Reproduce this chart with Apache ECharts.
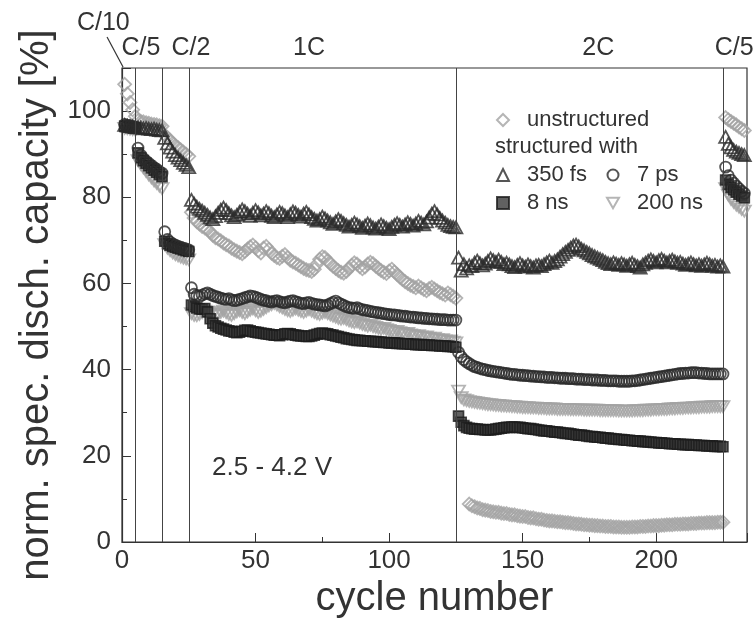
<!DOCTYPE html>
<html>
<head>
<meta charset="utf-8">
<script src="https://cdn.jsdelivr.net/npm/echarts@6/dist/echarts.min.js"></script>
<style>
  html, body { margin: 0; padding: 0; background: #ffffff; }
  #chart { width: 755px; height: 626px; }
</style>
</head>
<body>
<div id="chart"></div>
<script>
// Normalised specific discharge capacity (%) per cycle, cycles 1..233.
// Blocks: C/10 (1-5), C/5 (6-15), C/2 (16-25), 1C (26-125), 2C (126-225), C/5 (226-233).

const unstructured = [
  106.2, 104.0, 102.0, 100.3, 98.8,
  97.8, 97.6, 97.5, 97.3, 97.2, 97.0, 96.9, 96.8, 96.6, 96.5,
  94.5, 93.8, 93.2, 92.6, 92.0, 91.5, 91.0, 90.5, 90.0, 89.5,
  76.5, 75.2, 74.3, 73.8, 73.2, 72.9, 72.5, 72.0, 71.2, 70.6,
  70.3, 69.9, 69.4, 69.0, 68.7, 68.2, 67.8, 67.5, 67.2, 66.9,
  67.4, 68.0, 68.5, 68.9, 68.3, 67.6, 67.1, 68.2, 68.6, 67.9,
  67.0, 66.5, 66.0, 65.8, 66.3, 66.7, 66.0, 65.4, 65.0, 64.7,
  64.3, 63.9, 63.5, 63.2, 63.0, 62.8, 63.3, 64.5, 65.6, 66.2,
  66.0, 65.3, 64.6, 64.0, 63.5, 63.0, 62.6, 62.4, 62.8, 63.5,
  64.2, 64.8, 64.5, 63.9, 63.4, 63.8, 64.5, 64.9, 64.6, 64.0,
  63.5, 63.0, 62.6, 62.3, 62.9, 63.3, 62.7, 62.1, 61.5, 60.9,
  60.4, 60.0, 59.6, 59.3, 59.0, 59.4, 59.0, 58.6, 58.3, 58.8,
  59.1, 58.7, 58.3, 57.9, 57.6, 57.3, 57.8, 57.4, 57.0, 56.6,
  null, null, null, null,
  8.8, 8.4, 8.2, 7.9, 7.8, 7.5, 7.4, 7.3, 7.1, 7.0,
  6.9, 6.9, 6.7, 6.6, 6.6, 6.4, 6.3, 6.3, 6.1, 6.0,
  5.9, 5.9, 5.7, 5.6, 5.6, 5.4, 5.3, 5.3, 5.1, 5.0,
  4.9, 4.9, 4.8, 4.7, 4.7, 4.6, 4.5, 4.5, 4.4, 4.3,
  4.2, 4.2, 4.1, 4.0, 4.0, 3.9, 3.9, 3.8, 3.8, 3.7,
  3.7, 3.6, 3.6, 3.6, 3.5, 3.5, 3.5, 3.4, 3.4, 3.4,
  3.4, 3.5, 3.5, 3.5, 3.6, 3.6, 3.6, 3.7, 3.7, 3.8,
  3.8, 3.8, 3.9, 3.9, 4.0, 4.0, 4.0, 4.1, 4.1, 4.1,
  4.2, 4.2, 4.2, 4.3, 4.3, 4.3, 4.4, 4.4, 4.4, 4.5,
  4.5, 4.5, 4.5, 4.6, 4.6, 4.6,
  98.5, 98.0, 97.6, 97.2, 96.8, 96.3, 95.9, 95.5
];

const fs350 = [
  96.8, 96.6, 96.5, 96.4, 96.3,
  96.2, 96.2, 96.0, 96.1, 95.9, 95.8, 95.9, 95.7, 95.6, 95.5,
  93.8, 92.5, 91.5, 90.6, 89.8, 89.2, 88.6, 88.0, 87.5, 87.0,
  79.4, 78.5, 77.8, 77.3, 76.9, 76.4, 75.9, 75.3, 74.9, 75.6,
  76.4, 77.1, 77.6, 77.0, 76.3, 75.8, 75.4, 75.9, 76.6, 77.2,
  76.8, 76.2, 75.7, 76.4, 77.0, 76.5, 75.8, 76.2, 76.8, 76.3,
  75.7, 75.4, 76.0, 76.6, 76.3, 75.8, 75.4, 76.1, 76.7, 76.4,
  75.9, 75.5, 76.2, 76.6, 76.0, 75.4, 75.0, 74.6, 74.9, 75.5,
  75.1, 74.6, 74.2, 73.8, 74.4, 74.9, 74.5, 74.0, 73.6, 73.2,
  73.6, 74.1, 73.7, 73.3, 72.9, 73.4, 73.9, 73.5, 73.0, 72.7,
  73.2, 73.7, 73.3, 72.9, 72.6, 73.1, 73.6, 74.0, 73.6, 73.2,
  73.7, 74.2, 73.8, 73.4, 73.9, 74.5, 74.1, 73.7, 74.4, 75.3,
  76.2, 76.8, 76.0, 75.2, 74.6, 74.1, 73.6, 73.3, 73.1, 73.0,
  66.0, 63.0, 64.5, 63.5, 64.2, 64.0, 64.8, 65.3, 64.7, 64.2,
  64.6, 65.2, 65.8, 65.4, 65.0, 65.5, 65.0, 64.5, 64.8, 64.4,
  64.0, 63.8, 64.3, 64.7, 64.2, 63.9, 64.4, 64.0, 63.7, 64.2,
  64.3, 64.0, 64.5, 64.9, 65.3, 64.8, 65.2, 65.6, 66.2, 66.8,
  67.3, 67.8, 68.3, 68.8, 69.0, 68.6, 68.0, 67.7, 67.3, 67.0,
  66.6, 66.3, 66.0, 65.7, 65.4, 65.0, 64.7, 64.5, 64.9, 64.6,
  64.3, 64.7, 64.4, 64.1, 64.5, 64.8, 64.3, 64.0, 63.7, 64.4,
  64.8, 65.3, 65.6, 65.2, 64.9, 65.4, 65.7, 65.3, 64.9, 65.2,
  65.5, 65.1, 64.8, 65.0, 64.6, 64.3, 64.6, 64.9, 64.5, 64.2,
  64.5, 64.1, 64.4, 64.8, 64.5, 64.1, 64.3, 63.9, 64.2, 63.9,
  94.0, 92.4, 91.6, 91.0, 90.6, 90.3, 90.0, 89.8
];

const ps7 = [
  96.9, 96.7, 96.6, 96.4, 96.3,
  91.4, 89.8, 89.0, 88.4, 87.9, 87.4, 86.9, 86.5, 86.0, 85.6,
  72.0, 70.2, 69.6, 69.2, 68.9, 68.6, 68.4, 68.2, 68.0, 67.8,
  59.0, 57.5, 57.2, 57.0, 57.3, 57.6, 57.8, 57.5, 57.2, 57.0,
  56.8, 56.6, 56.4, 56.3, 56.5, 56.2, 56.0, 56.1, 56.3, 56.5,
  56.7, 56.9, 57.1, 57.0, 56.8, 56.6, 56.3, 56.1, 56.0, 55.8,
  55.7, 55.9, 56.0, 55.8, 55.6, 55.5, 55.7, 55.9, 56.0, 55.8,
  55.6, 55.4, 55.3, 55.5, 55.6, 55.4, 55.2, 55.1, 55.0, 54.9,
  54.8, 55.0, 55.3, 55.6, 55.9, 55.5, 55.2, 54.9, 54.6, 54.4,
  54.3, 54.2, 54.4, 54.1, 53.9, 53.8, 53.7, 53.5, 53.4, 53.3,
  53.2, 53.1, 53.0, 52.9, 52.8, 52.7, 52.7, 52.6, 52.5, 52.4,
  52.4, 52.3, 52.2, 52.2, 52.1, 52.0, 52.0, 51.9, 51.9, 51.8,
  51.8, 51.7, 51.7, 51.6, 51.6, 51.6, 51.5, 51.5, 51.5, 51.5,
  44.0, 43.0, 42.3, 41.8, 41.4, 41.0, 40.7, 40.5, 40.3, 40.1,
  40.0, 39.8, 39.7, 39.6, 39.5, 39.4, 39.3, 39.2, 39.1, 39.0,
  38.9, 38.9, 38.8, 38.7, 38.7, 38.6, 38.6, 38.5, 38.5, 38.4,
  38.4, 38.3, 38.3, 38.2, 38.2, 38.2, 38.1, 38.1, 38.0, 38.0,
  38.0, 37.9, 37.9, 37.9, 37.8, 37.8, 37.8, 37.7, 37.7, 37.7,
  37.6, 37.6, 37.6, 37.5, 37.5, 37.5, 37.4, 37.4, 37.4, 37.4,
  37.3, 37.3, 37.3, 37.3, 37.3, 37.4, 37.4, 37.5, 37.6, 37.7,
  37.8, 37.9, 38.0, 38.1, 38.2, 38.3, 38.4, 38.5, 38.6, 38.7,
  38.8, 38.9, 39.0, 39.1, 39.1, 39.2, 39.2, 39.3, 39.3, 39.3,
  39.2, 39.2, 39.1, 39.1, 39.0, 39.0, 39.0, 39.0, 39.0, 39.0,
  87.0, 85.0, 84.0, 83.3, 82.6, 82.0, 81.4, 80.9
];

const ns8 = [
  96.5, 96.4, 96.3, 96.2, 96.1,
  90.3, 89.2, 88.5, 87.9, 87.3, 86.8, 86.3, 85.8, 85.3, 84.8,
  69.8, 69.2, 68.9, 68.6, 68.4, 68.2, 68.0, 67.8, 67.6, 67.4,
  55.0, 54.6, 54.3, 54.1, 54.0, 54.2, 53.4, 51.8, 50.8, 50.2,
  49.9, 49.6, 49.4, 49.2, 49.0, 48.9, 48.7, 48.6, 48.7, 48.9,
  49.1, 49.2, 49.0, 48.8, 48.7, 48.6, 48.5, 48.4, 48.3, 48.2,
  48.1, 48.0, 48.0, 47.9, 48.1, 48.3, 48.4, 48.3, 48.1, 48.0,
  47.9, 47.8, 47.8, 47.7, 47.7, 47.8, 48.0, 48.2, 48.4, 48.5,
  48.4, 48.3, 48.1, 48.0, 47.8, 47.7, 47.5, 47.4, 47.2, 47.1,
  47.0, 46.9, 46.8, 46.8, 46.7, 46.7, 46.6, 46.6, 46.5, 46.5,
  46.4, 46.4, 46.3, 46.3, 46.2, 46.2, 46.2, 46.1, 46.1, 46.0,
  46.0, 46.0, 45.9, 45.9, 45.8, 45.8, 45.8, 45.7, 45.7, 45.7,
  45.6, 45.6, 45.6, 45.5, 45.5, 45.5, 45.4, 45.4, 45.3, 45.2,
  29.2, 27.8, 27.0, 26.6, 26.4, 26.3, 26.2, 26.2, 26.1, 26.1,
  26.0, 26.0, 26.0, 26.1, 26.2, 26.3, 26.4, 26.5, 26.6, 26.6,
  26.7, 26.7, 26.6, 26.6, 26.5, 26.4, 26.3, 26.3, 26.2, 26.1,
  26.0, 25.9, 25.8, 25.8, 25.7, 25.6, 25.5, 25.5, 25.4, 25.3,
  25.2, 25.2, 25.1, 25.0, 24.9, 24.8, 24.8, 24.7, 24.6, 24.5,
  24.5, 24.4, 24.3, 24.3, 24.2, 24.1, 24.1, 24.0, 23.9, 23.9,
  23.8, 23.8, 23.7, 23.6, 23.6, 23.5, 23.5, 23.4, 23.4, 23.3,
  23.3, 23.2, 23.2, 23.1, 23.1, 23.0, 23.0, 22.9, 22.9, 22.8,
  22.8, 22.8, 22.7, 22.7, 22.6, 22.6, 22.6, 22.5, 22.5, 22.5,
  22.4, 22.4, 22.4, 22.3, 22.3, 22.3, 22.2, 22.2, 22.2, 22.1,
  84.0, 83.0, 82.3, 81.7, 81.2, 80.7, 80.3, 79.9
];

const ns200 = [
  96.0, 95.9, 95.8, 95.7, 95.6,
  88.5, 87.6, 86.8, 86.0, 85.2, 84.5, 83.8, 83.2, 82.6, 82.0,
  69.0, 68.2, 67.6, 67.1, 66.7, 66.4, 66.1, 65.9, 65.7, 65.5,
  53.0, 52.6, 52.5, 52.8, 53.2, 53.6, 53.4, 53.0, 52.7, 52.5,
  52.9, 53.3, 53.6, 53.2, 52.8, 52.6, 53.0, 53.4, 53.7, 53.3,
  53.0, 53.4, 53.8, 54.1, 53.7, 53.3, 53.6, 54.0, 54.4, 54.8,
  55.1, 55.4, 55.0, 54.6, 54.3, 54.0, 53.7, 53.5, 53.8, 54.1,
  53.8, 53.5, 53.3, 53.6, 53.9, 53.6, 53.3, 53.0, 52.8, 53.1,
  53.3, 53.0, 52.7, 52.4, 52.2, 51.9, 51.7, 51.9, 51.6, 51.3,
  51.1, 50.9, 51.1, 50.8, 50.5, 50.3, 50.1, 50.3, 50.0, 49.8,
  49.6, 49.4, 49.6, 49.3, 49.1, 48.9, 48.7, 48.9, 48.6, 48.4,
  48.2, 48.4, 48.1, 47.9, 47.7, 47.9, 47.6, 47.4, 47.6, 47.3,
  47.1, 47.3, 47.0, 46.8, 47.0, 46.7, 46.5, 46.7, 46.4, 46.2,
  35.0, 33.5, 33.0, 32.8, 32.6, 32.5, 32.4, 32.3, 32.2, 32.1,
  32.0, 31.9, 31.9, 31.8, 31.7, 31.7, 31.6, 31.6, 31.5, 31.5,
  31.4, 31.4, 31.3, 31.3, 31.2, 31.2, 31.2, 31.1, 31.1, 31.1,
  31.0, 31.0, 31.0, 30.9, 30.9, 30.9, 30.9, 30.8, 30.8, 30.8,
  30.8, 30.8, 30.7, 30.7, 30.7, 30.7, 30.7, 30.6, 30.6, 30.6,
  30.6, 30.6, 30.6, 30.5, 30.5, 30.5, 30.5, 30.5, 30.5, 30.5,
  30.4, 30.4, 30.4, 30.4, 30.4, 30.4, 30.5, 30.5, 30.5, 30.5,
  30.6, 30.6, 30.6, 30.7, 30.7, 30.7, 30.8, 30.8, 30.8, 30.9,
  30.9, 30.9, 31.0, 31.0, 31.0, 31.1, 31.1, 31.1, 31.2, 31.2,
  31.2, 31.3, 31.3, 31.3, 31.3, 31.4, 31.4, 31.4, 31.4, 31.4,
  82.0, 80.5, 79.5, 78.8, 78.2, 77.7, 77.2, 76.8
];

// Cycle numbers at which the C-rate changes
const rateBoundaries = [5, 15, 25, 125, 225];
// C-rate captions above the plot and the cycle they sit over
const rateLabels = ['C/10', 'C/5', 'C/2', '1C', '2C', 'C/5'];
const rateLabelCycle = [-7, 7.1, 25.8, 70, 178.3, 229.2];

const voltageWindow = '2.5 - 4.2 V';

const FONT = '"Liberation Sans", Arial, Helvetica, sans-serif';
const INK = '#2b2b2b';
const GREY = '#a3a3a3';
const TEXT = '#333333';
// Downward-pointing triangle for the 200 ns series and its legend entry
const DOWN_TRIANGLE = 'path://M0,0 L12,0 L6,10.4 Z';

function toPoints(values) {
  const pts = [];
  values.forEach((v, i) => { if (v !== null) pts.push([i + 1, v]); });
  return pts;
}

function hollow(name, values, symbol, size, color) {
  return {
    name, type: 'scatter', data: toPoints(values),
    symbol, symbolSize: size,
    itemStyle: { color: 'rgba(255,255,255,0)', borderColor: color, borderWidth: 1.8 },
    emphasis: { disabled: true }
  };
}

const chart = echarts.init(document.getElementById('chart'), null, { renderer: 'canvas' });

const legendText = { color: TEXT, fontSize: 22, fontFamily: FONT, lineHeight: 22, padding: [0, 0, 0, 13] };

chart.setOption({
  animation: false,
  backgroundColor: '#ffffff',
  grid: { left: 122, right: 8, top: 68, bottom: 84, show: true, borderColor: '#333', borderWidth: 1.2, backgroundColor: 'transparent' },
  xAxis: {
    type: 'value', min: 0, max: 234, interval: 50,
    name: 'cycle number', nameLocation: 'middle', nameGap: 34,
    nameTextStyle: { fontSize: 40, color: TEXT, fontFamily: FONT },
    axisLine: { lineStyle: { color: '#333', width: 1.2 } },
    axisTick: { inside: true, length: 9, lineStyle: { color: '#333' } },
    minorTick: { show: true, splitNumber: 2, length: 5, lineStyle: { color: '#333' } },
    splitLine: { show: false },
    axisLabel: { fontSize: 26, color: TEXT, fontFamily: FONT, margin: 6, showMaxLabel: false }
  },
  yAxis: {
    type: 'value', min: 0, max: 110, interval: 20,
    name: 'norm. spec. disch. capacity [%]', nameLocation: 'middle', nameGap: 64,
    nameTextStyle: { fontSize: 40, color: TEXT, fontFamily: FONT },
    axisLine: { lineStyle: { color: '#333', width: 1.2 } },
    axisTick: { inside: true, length: 9, lineStyle: { color: '#333' } },
    minorTick: { show: true, splitNumber: 2, length: 5, lineStyle: { color: '#333' } },
    splitLine: { show: false },
    axisLabel: { fontSize: 26, color: TEXT, fontFamily: FONT, margin: 11, showMaxLabel: false }
  },
  legend: [
    { data: ['unstructured'], orient: 'vertical', left: 491, top: 104, itemWidth: 12, itemHeight: 12, itemGap: 6, selectedMode: false, textStyle: legendText },
    { data: ['350 fs', '8 ns'], orient: 'vertical', left: 491, top: 159, itemWidth: 12, itemHeight: 12, itemGap: 6, selectedMode: false, textStyle: legendText },
    { data: ['7 ps', { name: '200 ns', icon: DOWN_TRIANGLE }], orient: 'vertical', left: 601, top: 159, itemWidth: 12, itemHeight: 11, itemGap: 6, selectedMode: false, textStyle: legendText }
  ],
  series: [
    {
      name: 'rate steps', type: 'scatter', data: [], silent: true,
      markLine: {
        silent: true, symbol: 'none', animation: false,
        label: { show: false },
        lineStyle: { color: '#444', width: 1, type: 'solid' },
        data: rateBoundaries.map(c => ({ xAxis: c }))
      }
    },
    hollow('200 ns', ns200, DOWN_TRIANGLE, [13, 11], GREY),
    hollow('unstructured', unstructured, 'diamond', [13, 13], GREY),
    {
      name: '8 ns', type: 'scatter', data: toPoints(ns8),
      symbol: 'rect', symbolSize: 10,
      itemStyle: { color: '#3a3a3a', borderColor: '#1c1c1c', borderWidth: 1.6 },
      emphasis: { disabled: true }
    },
    hollow('7 ps', ps7, 'circle', 11, INK),
    hollow('350 fs', fs350, 'triangle', [13, 12], INK)
  ]
});

// Captions and annotations placed in data coordinates
function px(x, y) { return chart.convertToPixel({ gridIndex: 0 }, [x, y]); }

const gridTop = px(0, 110)[1];
const graphics = [];
rateLabels.forEach((t, i) => {
  const p = px(rateLabelCycle[i], 110);
  const dy = i === 0 ? 45 : 20;
  graphics.push({
    type: 'text', x: p[0], y: gridTop - dy, silent: true,
    style: { text: t, fill: TEXT, fontSize: 25, fontFamily: FONT, align: 'center', verticalAlign: 'middle', textAlign: 'center', textVerticalAlign: 'middle' }
  });
});
const a = px(-5.6, 110), b = px(0.4, 110);
graphics.push({ type: 'line', silent: true, shape: { x1: a[0], y1: gridTop - 31, x2: b[0], y2: b[1] - 1 }, style: { stroke: '#333', lineWidth: 1.2 } });

const v = px(33.7, 17.2);
graphics.push({
  type: 'text', x: v[0], y: v[1], silent: true,
  style: { text: voltageWindow, fill: TEXT, fontSize: 26, fontFamily: FONT, align: 'left', verticalAlign: 'middle', textAlign: 'left', textVerticalAlign: 'middle' }
});
graphics.push({
  type: 'text', x: 495, y: 147, silent: true,
  style: { text: 'structured with', fill: TEXT, fontSize: 22, fontFamily: FONT, align: 'left', verticalAlign: 'middle', textAlign: 'left', textVerticalAlign: 'middle' }
});
chart.setOption({ graphic: graphics });
</script>
</body>
</html>
